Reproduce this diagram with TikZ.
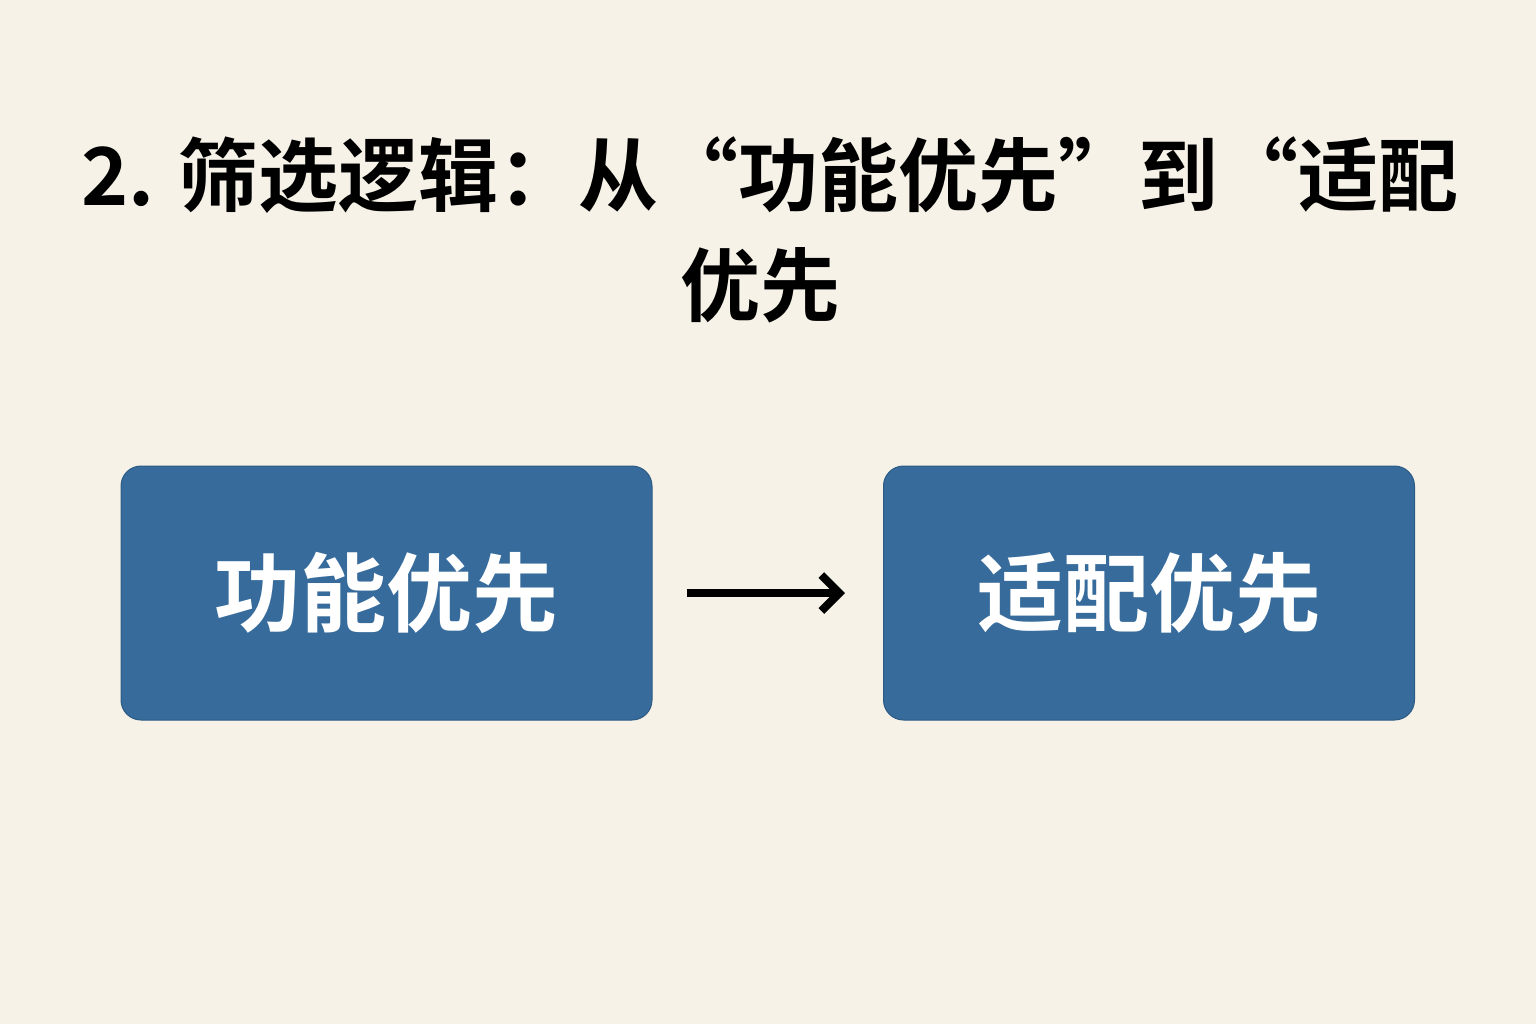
\documentclass[tikz,border=0pt]{standalone}
\usepackage{fontspec}
\newfontfamily\cjk{Noto Sans CJK SC}[BoldFont={Noto Sans CJK SC Bold}]
\usetikzlibrary{arrows.meta}
\definecolor{bg}{HTML}{F6F2E8}
\definecolor{boxc}{HTML}{366B9B}
\tikzset{
 box/.style={fill=boxc,draw=boxc!85!black,line width=0.5pt,rounded corners=10pt,minimum width=265.5pt,minimum height=127pt,text=white,font=\cjk\bfseries\fontsize{43}{50}\selectfont},
 ttl/.style={font=\cjk\bfseries\fontsize{40}{48}\selectfont,text=black}
}
\begin{document}
\begin{tikzpicture}[x=0.5pt,y=-0.5pt]
\fill[bg] (0,0) rectangle (1536,1024);
\useasboundingbox (0,0) rectangle (1536,1024);
\node[ttl] (t1) at (770,175) {2. 筛选逻辑：从“功能优先”到“适配};
\node[ttl] (t2) at (760,285) {优先};
\node[box] (a) at (386.5,593) {功能优先};
\node[box] (b) at (1149,593) {适配优先};
\draw[line width=4pt,-{Straight Barb[length=9pt,width=18pt,line width=4pt]}] ([xshift=17pt]a.east) -- ([xshift=-19pt]b.east -| b.west);
\end{tikzpicture}
\end{document}
